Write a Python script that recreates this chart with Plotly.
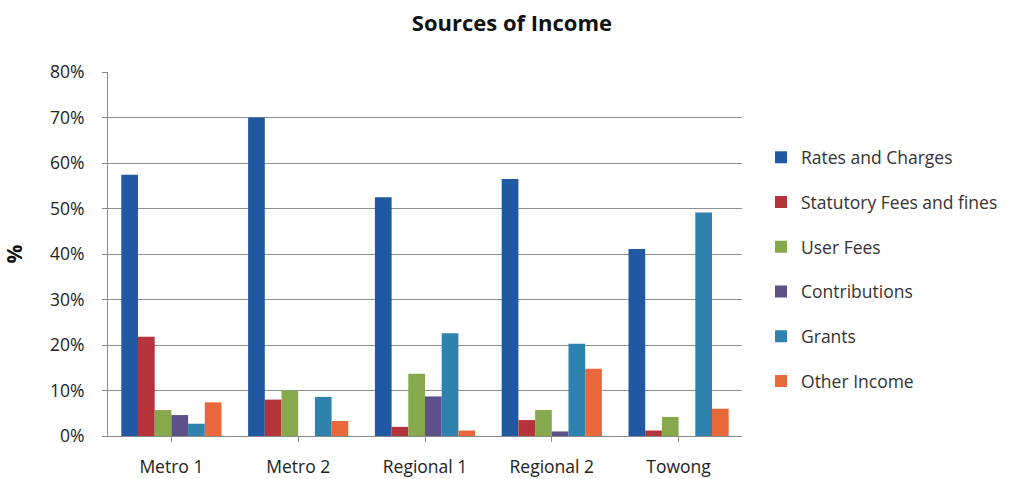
import plotly.graph_objects as go

# Income share by council type (percent)
councils = ["Metro 1", "Metro 2", "Regional 1", "Regional 2", "Towong"]
rates_and_charges = [57.4, 70.0, 52.5, 56.5, 41.1]
statutory_fees = [21.8, 8.0, 2.0, 3.5, 1.2]
user_fees = [5.7, 10.1, 13.7, 5.7, 4.2]
contributions = [4.6, 0.0, 8.7, 1.0, 0.0]
grants = [2.7, 8.6, 22.6, 20.3, 49.1]
other_income = [7.4, 3.3, 1.2, 14.8, 6.0]

series_names = ["Rates and Charges", "Statutory Fees and fines", "User Fees",
                "Contributions", "Grants", "Other Income"]
series_values = [rates_and_charges, statutory_fees, user_fees,
                 contributions, grants, other_income]
series_colors = ["#2059A2", "#B5333A", "#86A94E", "#5E5089", "#2F82AE", "#E8683C"]

y_ticks = [0, 10, 20, 30, 40, 50, 60, 70, 80]
y_tick_labels = [f"{v}%" for v in y_ticks]

font_family = "Open Sans, DejaVu Sans, sans-serif"

fig = go.Figure()
for name, vals, color in zip(series_names, series_values, series_colors):
    fig.add_trace(go.Bar(
        x=councils, y=vals, name=name, legendgroup=name,
        marker=dict(color=color, line=dict(width=0)),
    ))

fig.update_layout(
    width=1030, height=479,
    margin=dict(l=108, r=288, t=72, b=43),
    paper_bgcolor="white", plot_bgcolor="white",
    barmode="group", bargap=0.21, bargroupgap=0,
    title=dict(text="<b>Sources of Income</b>", x=0.497, xanchor="center",
               y=0.952, yanchor="middle",
               font=dict(family=font_family, size=22, color="#111111")),
    font=dict(family=font_family, color="#222222"),
    legend=dict(x=1.03, xanchor="left", y=0.815, yanchor="top",
                font=dict(size=17.5, color="#333333"),
                tracegroupgap=19, itemwidth=30,
                bgcolor="rgba(0,0,0,0)"),
    showlegend=True,
)

fig.update_xaxes(
    showline=True, linecolor="#8a8a8a", linewidth=1,
    ticks="outside", ticklen=5, tickcolor="#8a8a8a",
    tickmode="array", tickvals=councils,
    tickfont=dict(size=17.5, color="#222222"),
    ticklabelstandoff=10,
    showgrid=False, automargin=False,
)
fig.update_yaxes(
    range=[0, 80], tickmode="array", tickvals=y_ticks, ticktext=y_tick_labels,
    showline=True, linecolor="#8a8a8a", linewidth=1,
    ticks="outside", ticklen=5, tickcolor="#8a8a8a",
    tickfont=dict(size=17.5, color="#222222"),
    ticklabelstandoff=14,
    showgrid=True, gridcolor="#8f8f8f", gridwidth=1.2,
    zeroline=False, automargin=False,
    title=dict(text="<b>%</b>", font=dict(size=21, color="#111111"), standoff=24),
)

fig.write_html("out.html")
